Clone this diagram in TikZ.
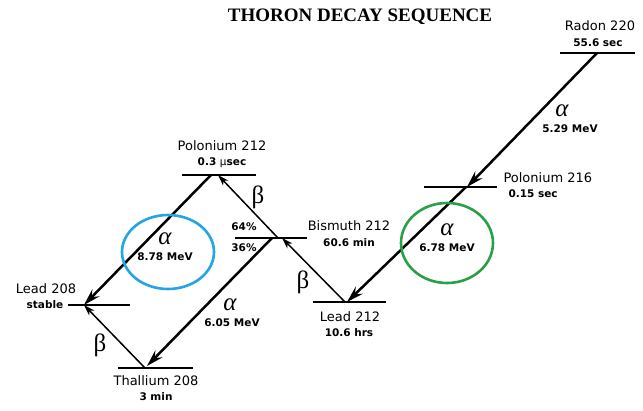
\documentclass[tikz,border=0pt]{standalone}
\usepackage{fontspec}
\setmainfont{Liberation Serif}
\newfontfamily\lblfont{DejaVu Sans}
\usetikzlibrary{arrows.meta}

\definecolor{ringblue}{RGB}{35,165,225}
\definecolor{ringgreen}{RGB}{40,160,70}

\tikzset{
	level/.style={line width=2.6pt},
	alphaarrow/.style={line width=2.5pt,-{Stealth[length=17pt,width=10pt,inset=6pt]}},
	betaarrow/.style={line width=1.5pt,-{Stealth[length=11pt,width=7pt,inset=3pt]}},
	isotope/.style={font=\lblfont\fontsize{13}{15}\selectfont},
	halflife/.style={font=\lblfont\bfseries\fontsize{10.5}{12}\selectfont},
	greek/.style={font=\fontsize{25}{27}\selectfont},
}

\begin{document}
\begin{tikzpicture}[x=1pt,y=-1pt]
		\useasboundingbox (0,0) rectangle (643,410);
		\node[font=\bfseries\fontsize{19}{21}\selectfont] (title) at (360,17) {THORON DECAY SEQUENCE};
		\foreach \xa/\xb/\y in {560/635/53,424/497/187,313/386/302,235/307/238,182/256/175,68/130/305,118/193/368} % edit here for the levels
		\draw[level] (\xa,\y) -- (\xb,\y);
		\coordinate (rn) at (597,53);
		\coordinate (po216) at (467,187);
		\coordinate (pb212) at (347,302);
		\coordinate (bi212) at (278,238);
		\coordinate (po212) at (215,175);
		\coordinate (pb208) at (84,305);
		\coordinate (tl208) at (145,368);
		% level labels
		\node[isotope] (rnname) at (600,26) {Radon 220};
		\node[halflife] (rnlife) at (598,43) {55.6 sec};
		\node[isotope,anchor=west] (po216name) at (500,178) {Polonium 216};
		\node[halflife,anchor=west] (po216life) at (505,194) {0.15 sec};
		\node[isotope] (pb212name) at (350,317) {Lead 212};
		\node[halflife] (pb212life) at (349,333) {10.6 hrs};
		\node[isotope] (bi212name) at (349,226) {Bismuth 212};
		\node[halflife] (bi212life) at (349,243) {60.6 min};
		\node[isotope] (po212name) at (222,146) {Polonium 212};
		\node[halflife] (po212life) at (222,163) {0.3 {\mdseries μ}sec};
		\node[isotope] (pb208name) at (46,289) {Lead 208};
		\node[halflife] (pb208life) at (45,305) {stable};
		\node[isotope] (tl208name) at (156,381) {Thallium 208};
		\node[halflife] (tl208life) at (156,397) {3 min};
		\node[halflife] (pct64) at (244,227) {64\%};
		\node[halflife] (pct36) at (244,248) {36\%};
		% decays
		\draw[alphaarrow] (rn) -- (po216);
		\draw[alphaarrow] ([xshift=-1pt]po216) -- (pb212);
		\draw[betaarrow] ([xshift=-2pt]pb212) -- ([xshift=4pt]bi212);
		\draw[betaarrow] (bi212) -- ([xshift=3pt]po212);
		\draw[alphaarrow] ([xshift=-4pt]po212) -- (pb208);
		\draw[alphaarrow] ([xshift=-6pt]bi212) -- ([xshift=2pt,yshift=2pt]tl208);
		\draw[betaarrow] (tl208) -- (pb208);
		% energies
		\node[greek] (a1) at (562,111) {\itshape α};
		\node[halflife] (e1) at (570,129) {5.29 MeV};
		\node[greek] (a2) at (447,230) {\itshape α};
		\node[halflife] (e2) at (447,248) {6.78 MeV};
		\node[greek] (a3) at (165,239) {\itshape α};
		\node[halflife] (e3) at (165,257) {8.78 MeV};
		\node[greek] (a4) at (230,305) {\itshape α};
		\node[halflife] (e4) at (232,323) {6.05 MeV};
		\node[greek] (b1) at (303,282) {β};
		\node[greek] (b2) at (258,197) {β};
		\node[greek] (b3) at (100,345) {β};
		\draw[ringgreen,line width=2.6pt] (447,243) ellipse [x radius=46pt,y radius=40pt];
		\draw[ringblue,line width=2.6pt] (168,252) ellipse [x radius=46pt,y radius=37pt];
	\end{tikzpicture}
\end{document}
